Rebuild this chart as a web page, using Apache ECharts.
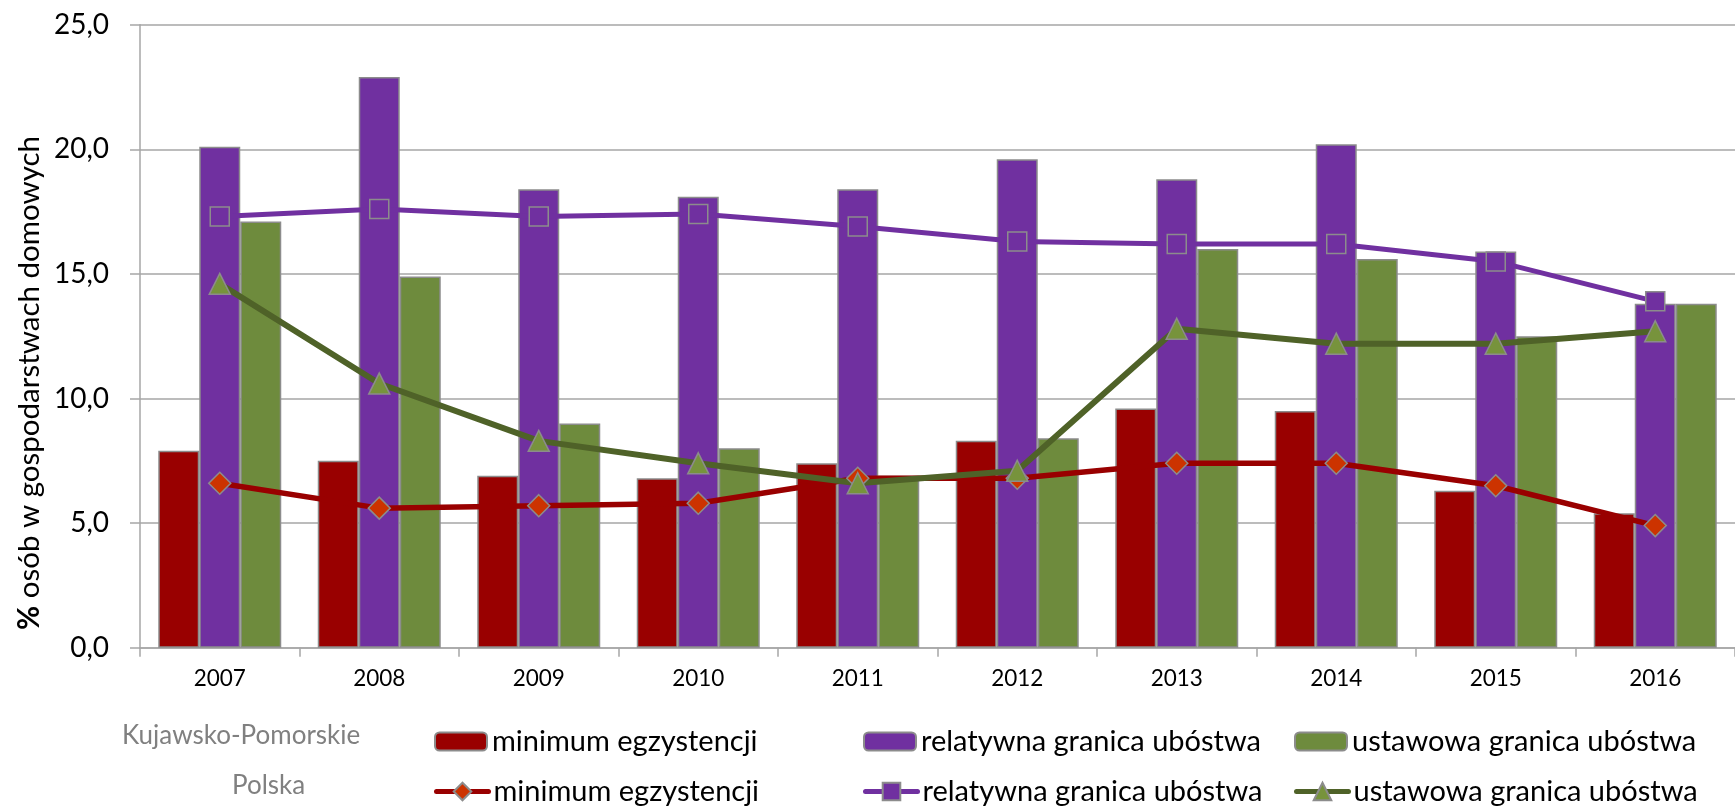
<!DOCTYPE html>
<html>
<head>
<meta charset="utf-8">
<script src="https://cdn.jsdelivr.net/npm/echarts@6/dist/echarts.min.js"></script>
<style>
    html, body { margin: 0; padding: 0; background: #fff; }
    #chart { width: 1735px; height: 810px; }
</style>
</head>
<body>
<div id="chart"></div>
<script>
// dane
var years = ['2007', '2008', '2009', '2010', '2011', '2012', '2013', '2014', '2015', '2016'];
// Kujawsko-Pomorskie (słupki)
var kpMinimum = [7.9, 7.5, 6.9, 6.8, 7.4, 8.3, 9.6, 9.5, 6.3, 5.4];
var kpRelatywna = [20.1, 22.9, 18.4, 18.1, 18.4, 19.6, 18.8, 20.2, 15.9, 13.8];
var kpUstawowa = [17.1, 14.9, 9.0, 8.0, 6.9, 8.4, 16.0, 15.6, 12.5, 13.8];
// Polska (linie)
var plMinimum = [6.6, 5.6, 5.7, 5.8, 6.8, 6.8, 7.4, 7.4, 6.5, 4.9];
var plRelatywna = [17.3, 17.6, 17.3, 17.4, 16.9, 16.3, 16.2, 16.2, 15.5, 13.9];
var plUstawowa = [14.6, 10.6, 8.3, 7.4, 6.6, 7.1, 12.8, 12.2, 12.2, 12.7];

var FONT = 'Lato';
var GRAY = '#a6a6a6';

var chart = echarts.init(document.getElementById('chart'));

function barSeries(name, data, color) {
    return {
        name: name,
        type: 'bar',
        data: data,
        barWidth: 41,
        barGap: '0%',
        itemStyle: { color: color, borderColor: '#8c8c8c', borderWidth: 1.5 }
    };
}

function lineSeries(name, data, color, width, symbol, symbolSize, symbolColor) {
    return {
        name: name,
        type: 'line',
        data: data,
        z: 5,
        symbol: symbol,
        symbolSize: symbolSize,
        lineStyle: { color: color, width: width, cap: 'round' },
        itemStyle: { color: symbolColor, borderColor: '#8c8c8c', borderWidth: 1.5 }
    };
}

function oneLegend(name, left, top, h) {
    return {
        data: [name],
        left: left,
        top: top,
        padding: 0,
        itemWidth: 52,
        itemHeight: h,
        selectedMode: false,
        lineStyle: { width: 5, cap: 'round' },
        formatter: function (n) { return n.replace(' (Polska)', '').replace(' (KP)', ''); },
        textStyle: { fontFamily: FONT, fontSize: 29, color: '#000' }
    };
}

var option = {
    animation: false,
    textStyle: { fontFamily: FONT },
    grid: { left: 140, top: 24.7, width: 1603, bottom: 162.3 },
    xAxis: {
        type: 'category',
        data: years,
        axisLine: { lineStyle: { color: GRAY, width: 1.5 } },
        axisTick: { show: true, length: 9, lineStyle: { color: GRAY, width: 1.5 } },
        axisLabel: { color: '#000', fontSize: 22.5, fontFamily: FONT, margin: 20 }
    },
    yAxis: {
        type: 'value',
        min: 0,
        max: 25,
        interval: 5,
        axisLine: { show: true, lineStyle: { color: GRAY, width: 1.5 } },
        axisTick: { show: true, length: 10, lineStyle: { color: GRAY, width: 1.5 } },
        splitLine: { lineStyle: { color: GRAY, width: 1.5 } },
        axisLabel: {
            color: '#000', fontSize: 28, fontFamily: FONT, margin: 31,
            formatter: function (v) { return v.toFixed(1).replace('.', ','); }
        }
    },
    legend: [
        oneLegend('minimum egzystencji (KP)', 434, 727, 18),
        oneLegend('relatywna granica ubóstwa (KP)', 863, 727, 18),
        oneLegend('ustawowa granica ubóstwa (KP)', 1294, 727, 18),
        oneLegend('minimum egzystencji (Polska)', 434, 777, 22),
        oneLegend('relatywna granica ubóstwa (Polska)', 863, 777, 22),
        oneLegend('ustawowa granica ubóstwa (Polska)', 1294, 777, 22)
    ],
    graphic: [
        {
            type: 'text', x: 29, y: 383, rotation: Math.PI / 2,
            style: {
                text: '{b|%} osób w gospodarstwach domowych',
                fontFamily: FONT, fontSize: 29.5, fill: '#000',
                align: 'center', verticalAlign: 'middle',
                rich: { b: { fontFamily: FONT, fontSize: 29.5, fontWeight: 'bold', fill: '#000' } }
            }
        },
        {
            type: 'text', left: 122, top: 723,
            style: { text: 'Kujawsko-Pomorskie', fill: '#808080', font: '26px Lato' }
        },
        {
            type: 'text', left: 232, top: 773,
            style: { text: 'Polska', fill: '#808080', font: '26px Lato' }
        }
    ],
    series: [
        barSeries('minimum egzystencji (KP)', kpMinimum, '#990000'),
        barSeries('relatywna granica ubóstwa (KP)', kpRelatywna, '#7030a0'),
        barSeries('ustawowa granica ubóstwa (KP)', kpUstawowa, '#6e8b3d'),
        lineSeries('minimum egzystencji (Polska)', plMinimum, '#990000', 5.5, 'diamond', [22, 22], '#cc3300'),
        lineSeries('relatywna granica ubóstwa (Polska)', plRelatywna, '#7030a0', 5, 'rect', 19, '#7030a0'),
        lineSeries('ustawowa granica ubóstwa (Polska)', plUstawowa, '#4f6228', 6, 'triangle', 21, '#77933c')
    ]
};

chart.setOption(option);
</script>
</body>
</html>
